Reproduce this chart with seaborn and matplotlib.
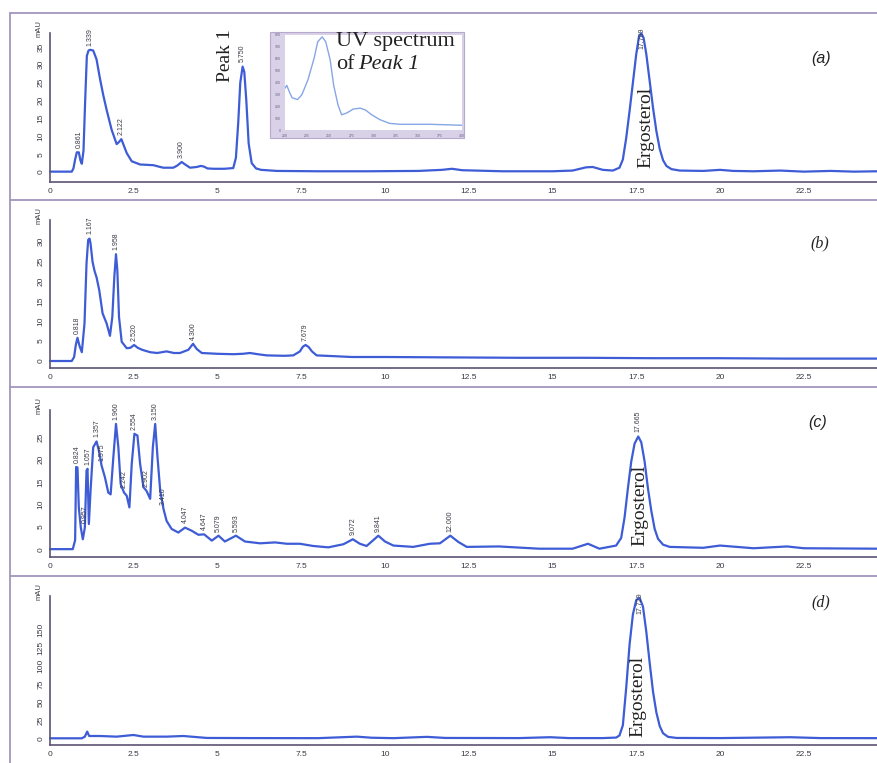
"""HPLC chromatograms (a)-(d) with ergosterol peak and UV spectrum inset."""

import matplotlib
matplotlib.use("Agg")
import matplotlib.pyplot as plt
from matplotlib.lines import Line2D
from matplotlib.patches import Rectangle
from matplotlib.ticker import FixedLocator, MultipleLocator
import numpy as np
import seaborn as sns

W, H = 877, 763

TRACE_COLOR = "#3d5cd6"
AXIS_COLOR = "#5d5474"
FRAME_COLOR = "#a396bd"
TEXT_COLOR = "#3a3a46"

# ---------------------------------------------------------------------------
# Data (retention time in min, absorbance in mAU)
# ---------------------------------------------------------------------------

A_T = [0.0, 0.65, 0.7, 0.75, 0.8, 0.86, 0.91, 0.95, 1.0, 1.05, 1.1, 1.15, 1.2,
       1.29, 1.39, 1.49, 1.59, 1.69, 1.84, 1.99, 2.06, 2.13, 2.2, 2.29, 2.44,
       2.69, 2.9, 3.09, 3.25, 3.38, 3.68, 3.8, 3.93, 4.05, 4.18, 4.38, 4.5, 4.6,
       4.7, 4.88, 5.2, 5.47, 5.55, 5.62, 5.68, 5.75, 5.8, 5.86, 5.93, 6.02, 6.15,
       6.3, 6.77, 8.0, 9.5, 11.0, 11.7, 12.0, 12.3, 13.5, 15.0, 15.6, 16.0, 16.2,
       16.5, 16.8, 17.0, 17.1, 17.2, 17.3, 17.4, 17.5, 17.58, 17.65, 17.72, 17.8,
       17.9, 18.0, 18.1, 18.2, 18.3, 18.4, 18.55, 18.8, 19.5, 20.0, 20.4, 21.0,
       21.8, 22.5, 23.3, 24.0, 24.7]
A_V = [0.1, 0.1, 1.0, 3.5, 5.5, 5.5, 3.2, 2.3, 6.0, 20.0, 32.5, 34.0, 34.2,
       34.0, 31.5, 26.2, 21.5, 17.4, 11.8, 7.8, 8.4, 9.2, 7.5, 5.3, 3.0,
       2.1, 2.0, 1.9, 1.5, 1.2, 1.2, 1.8, 2.8, 2.0, 1.2, 1.4, 1.7, 1.5,
       1.0, 0.9, 0.9, 1.1, 4.0, 14.0, 25.0, 29.5, 28.0, 20.0, 8.0, 2.5, 1.0,
       0.6, 0.3, 0.2, 0.2, 0.3, 0.6, 0.9, 0.5, 0.2, 0.2, 0.4, 1.3, 1.4,
       0.6, 0.4, 1.2, 3.5, 9.5, 17.0, 25.0, 33.0, 37.8, 38.8, 37.5, 33.0,
       25.5, 18.0, 11.5, 6.5, 3.3, 1.7, 0.8, 0.4, 0.3, 0.6, 0.3, 0.2,
       0.4, 0.1, 0.3, 0.1, 0.2]
A_PEAK_T = [0.86, 1.2, 2.13, 3.93, 5.75]
A_PEAK_LABELS = ["0.861", "1.339", "2.122", "3.900", "5.750"]
A_TOP_T = [17.65]
A_TOP_LABELS = ["17.709"]

B_T = [0.0, 0.65, 0.72, 0.77, 0.82, 0.88, 0.95, 1.03, 1.09, 1.14, 1.18, 1.21,
       1.27, 1.33, 1.39, 1.47, 1.57, 1.69, 1.79, 1.86, 1.92, 1.97, 2.01, 2.06,
       2.14, 2.29, 2.4, 2.51, 2.62, 2.75, 2.99, 3.2, 3.48, 3.7, 3.88, 4.13,
       4.27, 4.38, 4.53, 5.0, 5.47, 5.75, 5.97, 6.2, 6.47, 7.0, 7.26, 7.46,
       7.55, 7.63, 7.72, 7.82, 7.96, 8.5, 9.0, 10.0, 12.0, 14.0, 16.0, 18.0,
       20.0, 22.0, 24.7]
B_V = [0.0, 0.0, 1.0, 4.0, 5.8, 3.8, 2.2, 9.4, 24.4, 30.3, 30.6, 29.4,
       24.8, 22.5, 20.9, 17.7, 11.9, 9.4, 6.3, 11.0, 21.0, 26.7, 22.7, 11.0,
       4.8, 3.2, 3.3, 4.0, 3.3, 2.8, 2.2, 2.0, 2.4, 2.0, 2.0, 2.8,
       4.3, 3.0, 2.0, 1.8, 1.7, 1.8, 2.0, 1.7, 1.4, 1.3, 1.4, 2.4,
       3.6, 4.0, 3.5, 2.4, 1.4, 1.2, 1.0, 1.0, 0.9, 0.8, 0.8, 0.7,
       0.7, 0.6, 0.6]
B_PEAK_T = [0.82, 1.18, 1.97, 2.51, 4.27, 7.63]
B_PEAK_LABELS = ["0.818", "1.167", "1.958", "2.520", "4.300", "7.679"]

C_T = [0.0, 0.68, 0.75, 0.78, 0.82, 0.86, 0.92, 0.98, 1.04, 1.09, 1.12, 1.16,
       1.21, 1.29, 1.39, 1.47, 1.54, 1.64, 1.74, 1.81, 1.89, 1.97, 2.04, 2.11,
       2.21, 2.29, 2.37, 2.44, 2.52, 2.61, 2.69, 2.79, 2.88, 2.99, 3.07, 3.14,
       3.21, 3.29, 3.39, 3.48, 3.63, 3.83, 4.03, 4.23, 4.43, 4.6, 4.83, 5.03,
       5.22, 5.55, 5.82, 6.27, 6.72, 7.07, 7.46, 7.86, 8.31, 8.76, 9.04, 9.25,
       9.45, 9.65, 9.8, 10.0, 10.25, 10.84, 11.34, 11.64, 11.95, 12.19, 12.44,
       13.4, 14.6, 15.6, 16.06, 16.4, 16.9, 17.05, 17.15, 17.25, 17.35, 17.45,
       17.56, 17.65, 17.75, 17.85, 17.95, 18.05, 18.15, 18.3, 18.5, 19.5, 20.0,
       20.5, 21.0, 22.0, 22.5, 24.7]
C_V = [0.0, 0.0, 2.0, 18.3, 18.2, 9.3, 4.8, 2.2, 4.8, 17.5, 17.9, 5.6,
       13.0, 22.7, 24.0, 21.6, 18.6, 16.0, 12.6, 12.2, 20.4, 27.9, 22.7, 14.5,
       12.6, 11.9, 9.3, 19.0, 25.7, 25.3, 19.0, 13.8, 13.0, 11.2, 22.7, 27.9,
       20.4, 13.0, 8.9, 6.3, 4.5, 3.7, 4.8, 4.1, 3.2, 3.3, 1.9, 3.0,
       1.7, 3.0, 1.7, 1.3, 1.5, 1.2, 1.2, 0.7, 0.4, 1.1, 2.2, 1.2,
       0.7, 2.0, 3.0, 1.7, 0.8, 0.5, 1.2, 1.3, 3.0, 1.6, 0.5,
       0.6, 0.1, 0.1, 1.2, 0.1, 0.8, 2.5, 7.0, 13.5, 19.5, 23.5,
       25.1, 23.8, 19.5, 13.5, 8.5, 4.5, 2.3, 1.0, 0.5, 0.3, 0.8,
       0.5, 0.2, 0.6, 0.2, 0.1]
C_PEAK_T = [0.82, 1.04, 1.12, 1.39, 1.54, 1.97, 2.21, 2.52, 2.88, 3.14, 3.39,
            4.03, 4.6, 5.03, 5.55, 9.04, 9.8, 11.95, 17.56]
C_PEAK_LABELS = ["0.824", "0.957", "1.057", "1.357", "1.575", "1.960", "2.242",
                 "2.554", "2.902", "3.150", "3.410", "4.047", "4.647", "5.079",
                 "5.593", "9.072", "9.841", "12.000", "17.665"]

D_T = [0.0, 0.95, 1.04, 1.11, 1.17, 1.49, 1.99, 2.49, 2.79, 3.48, 3.98, 4.68,
       6.0, 8.0, 9.16, 9.6, 10.25, 11.25, 11.8, 14.0, 14.93, 15.5, 16.5, 16.9,
       17.0, 17.1, 17.2, 17.3, 17.4, 17.5, 17.6, 17.7, 17.8, 17.9, 18.0, 18.1,
       18.2, 18.3, 18.45, 18.7, 20.0, 22.1, 23.0, 24.7]
D_V = [0.0, 0.0, 2.3, 9.3, 3.2, 3.2, 2.3, 4.6, 2.3, 2.3, 3.2, 0.5,
       0.3, 0.2, 2.3, 0.8, 0.2, 2.0, 0.5, 0.3, 1.5, 0.3, 0.3, 1.0,
       4.0, 18.0, 70.0, 130.0, 172.0, 192.0, 195.0, 183.0, 148.0, 105.0, 65.0, 36.0,
       17.0, 7.0, 2.0, 0.5, 0.3, 1.5, 0.3, 0.2]
D_TOP_T = [17.6]
D_TOP_LABELS = ["17.729"]

X_TICKS = [0, 2.5, 5, 7.5, 10, 12.5, 15, 17.5, 20, 22.5]
X_TICK_LABELS = ["0", "2.5", "5", "7.5", "10", "12.5", "15", "17.5", "20", "22.5"]
A_Y_TICKS = [0, 5, 10, 15, 20, 25, 30, 35]
B_Y_TICKS = [0, 5, 10, 15, 20, 25, 30]
C_Y_TICKS = [0, 5, 10, 15, 20, 25]
D_Y_TICKS = [0, 25, 50, 75, 100, 125, 150]

# UV spectrum of Peak 1 (wavelength nm, relative absorbance)
UV_NM = [200, 202, 205, 208, 214, 219, 226, 233, 237, 242, 246, 251, 255, 260,
         264, 270, 277, 285, 291, 298, 307, 318, 330, 364, 400]
UV_ABS = [44, 47, 40, 34, 32, 37, 53, 76, 93, 98, 93, 74, 47, 26,
          16, 18, 22, 23, 21, 16, 11, 7, 6, 6, 5]
UV_X_TICKS = [200, 225, 250, 275, 300, 325, 350, 375, 400]
UV_Y_TICKS = [0, 12.5, 25, 37.5, 50, 62.5, 75, 87.5, 100]
UV_Y_LABELS = ["0", "100", "200", "300", "400", "500", "600", "700", "800"]


# ---------------------------------------------------------------------------
# Helpers
# ---------------------------------------------------------------------------

def _box(left, top, right, bottom):
    """Pixel box -> figure fraction [x, y, w, h]."""
    return [left / W, 1 - bottom / H, (right - left) / W, (bottom - top) / H]


def _fx(x):
    return x / W


def _fy(y):
    return 1 - y / H


def _chromatogram(fig, rect, t, v, ylim, yticks, peaks=(), labels=(),
                  top_peaks=(), top_labels=()):
    ax = fig.add_axes(_box(*rect))
    ax.set_facecolor("none")
    sns.lineplot(x=t, y=v, ax=ax, color=TRACE_COLOR, linewidth=1.6,
                 sort=False, estimator=None)
    ax.lines[-1].set_clip_on(False)

    ax.set_xlim(0, (W - rect[0]) / 33.5)
    ax.set_ylim(*ylim)
    for side in ("top", "right"):
        ax.spines[side].set_visible(False)
    for side in ("left", "bottom"):
        ax.spines[side].set_color(AXIS_COLOR)
        ax.spines[side].set_linewidth(1.2)

    ax.xaxis.set_major_locator(FixedLocator(X_TICKS))
    ax.set_xticklabels(X_TICK_LABELS)
    ax.xaxis.set_minor_locator(MultipleLocator(0.5))
    ax.yaxis.set_major_locator(FixedLocator(yticks))
    ax.set_yticklabels([str(y) for y in yticks], rotation=90, va="center")
    ax.yaxis.set_minor_locator(MultipleLocator((yticks[1] - yticks[0]) / 2))
    ax.tick_params(which="major", direction="inout", length=4, width=1.0,
                   colors=AXIS_COLOR, labelcolor=TEXT_COLOR, labelsize=6, pad=2)
    ax.tick_params(which="minor", direction="inout", length=2.5, width=0.8,
                   colors=AXIS_COLOR)
    ax.set_xlabel("")
    ax.set_ylabel("")

    ax.annotate("mAU", xy=(0, 1), xycoords="axes fraction", xytext=(-8, -3),
                textcoords="offset points", rotation=90, ha="center", va="bottom",
                fontsize=5.5, color=TEXT_COLOR)

    for pt, lab in zip(peaks, labels):
        pv = np.interp(pt, t, v)
        ax.annotate(lab, xy=(pt, pv), xytext=(0, 3), textcoords="offset points",
                    rotation=90, ha="center", va="bottom", fontsize=5,
                    color=TEXT_COLOR, annotation_clip=False)
    for pt, lab in zip(top_peaks, top_labels):
        pv = np.interp(pt, t, v)
        ax.annotate(lab, xy=(pt, pv), xytext=(0.5, 4), textcoords="offset points",
                    rotation=90, ha="center", va="top", fontsize=5,
                    color=TEXT_COLOR, annotation_clip=False)
    return ax


# ---------------------------------------------------------------------------
# Figure
# ---------------------------------------------------------------------------

sns.set_theme(style="white")
plt.rcParams["font.family"] = ["Liberation Sans", "DejaVu Sans"]

fig = plt.figure(figsize=(W / 100, H / 100), dpi=100)
fig.patch.set_facecolor("white")

# panel frames
for y in (13, 200, 387, 576):
    fig.add_artist(Line2D([_fx(10), 1], [_fy(y), _fy(y)], color=FRAME_COLOR,
                          linewidth=1.3, transform=fig.transFigure))
fig.add_artist(Line2D([_fx(10), _fx(10)], [_fy(13), 0], color=FRAME_COLOR,
                      linewidth=1.3, transform=fig.transFigure))

ax_a = _chromatogram(fig, (50, 33, W, 182), A_T, A_V, (-2.8, 38.9), A_Y_TICKS,
                     A_PEAK_T, A_PEAK_LABELS, A_TOP_T, A_TOP_LABELS)
ax_b = _chromatogram(fig, (50, 220, W, 368), B_T, B_V, (-1.75, 35.25), B_Y_TICKS,
                     B_PEAK_T, B_PEAK_LABELS)
ax_c = _chromatogram(fig, (50, 410, W, 557), C_T, C_V, (-1.75, 31.0), C_Y_TICKS,
                     C_PEAK_T, C_PEAK_LABELS)
ax_d = _chromatogram(fig, (50, 596, W, 745), D_T, D_V, (-9.3, 197.6), D_Y_TICKS,
                     (), (), D_TOP_T, D_TOP_LABELS)

serif = ["Liberation Serif", "DejaVu Serif"]
ax_a.text(5.25, 32.5, "Peak 1", rotation=90, ha="center", va="center",
          fontsize=14, family=serif, color="#222222")
ax_a.text(17.8, 12.5, "Ergosterol", rotation=90, ha="center", va="center",
          fontsize=14, family=serif, color="#222222")
ax_c.text(17.6, 9.8, "Ergosterol", rotation=90, ha="center", va="center",
          fontsize=14, family=serif, color="#222222")
ax_d.text(17.55, 58, "Ergosterol", rotation=90, ha="center", va="center",
          fontsize=14, family=serif, color="#222222")

# panel letters
for label, (x, y), fam in zip(["(a)", "(b)", "(c)", "(d)"],
                              [(821, 58), (820, 243), (818, 423), (821, 602)],
                              [["Liberation Sans"], serif, ["Liberation Sans"], serif]):
    fig.text(_fx(x), _fy(y), label, ha="center", va="center", fontsize=11.5,
             style="italic", family=fam, color="#222222")

# UV spectrum inset
fig.add_artist(Rectangle((_fx(270), _fy(138)), (464 - 270) / W, (138 - 32) / H,
                         transform=fig.transFigure, facecolor="#d9d1e7",
                         edgecolor="#b5aacd", linewidth=0.8, zorder=3))
ax_uv = fig.add_axes(_box(285, 35, 462, 130), zorder=4)
ax_uv.set_facecolor("white")
sns.lineplot(x=UV_NM, y=UV_ABS, ax=ax_uv, color="#86a6e6", linewidth=1.0,
             sort=False, estimator=None)
ax_uv.set_xlim(200, 400)
ax_uv.set_ylim(0, 100)
for s in ax_uv.spines.values():
    s.set_visible(False)
ax_uv.xaxis.set_major_locator(FixedLocator(UV_X_TICKS))
ax_uv.set_xticklabels([str(x) for x in UV_X_TICKS])
ax_uv.yaxis.set_major_locator(FixedLocator(UV_Y_TICKS))
ax_uv.set_yticklabels(UV_Y_LABELS)
ax_uv.tick_params(direction="out", length=1.5, width=0.8, colors="#8a7fa6",
                  labelcolor="#6a5f86", labelsize=2.5, pad=1.5)
ax_uv.set_xlabel("")
ax_uv.set_ylabel("")

fig.text(_fx(336), _fy(46), "UV spectrum", ha="left", va="baseline",
         fontsize=16, family=serif, color="#222222", zorder=5)
fig.text(_fx(336), _fy(69), "of", ha="left", va="baseline",
         fontsize=16, family=serif, color="#222222", zorder=5)
fig.text(_fx(358), _fy(69), "Peak 1", ha="left", va="baseline",
         fontsize=16, family=serif, style="italic", color="#222222", zorder=5)

fig.savefig("out.png", dpi=100)
plt.close(fig)
